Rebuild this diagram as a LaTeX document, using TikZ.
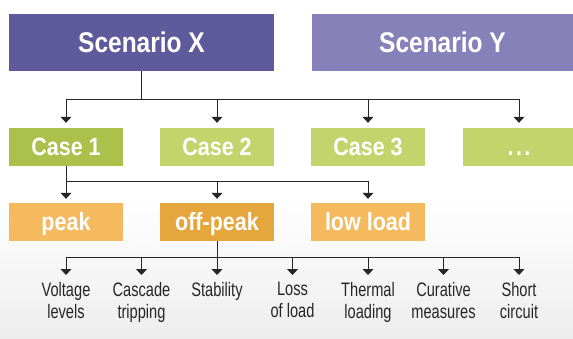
\documentclass[tikz,border=0pt]{standalone}
\usepackage{fontspec}
\setmainfont{Liberation Sans}
\newfontfamily\hdfont{Liberation Sans}[FakeStretch=0.86]
\newfontfamily\lbfont{Liberation Sans}[FakeStretch=0.75]
\usetikzlibrary{arrows.meta}
\definecolor{sxcol}{HTML}{5F5A9C}
\definecolor{sycol}{HTML}{8681B9}
\definecolor{conecol}{HTML}{ACC14B}
\definecolor{ccol}{HTML}{C3D46D}
\definecolor{pcol}{HTML}{F4BA5D}
\definecolor{opcol}{HTML}{E5A63D}
\begin{document}
\begin{tikzpicture}[x=1pt,y=-1pt,
  box/.style={rectangle, inner sep=0pt, text=white, minimum width=114pt, minimum height=38pt,
    font=\hdfont\bfseries\fontsize{25}{30}\selectfont, text height=18pt, text depth=0pt},
  scen/.style={box, minimum height=57pt, font=\hdfont\bfseries\fontsize{28.5}{32}\selectfont, text height=20.5pt},
  lbl/.style={inner sep=0pt, anchor=north, align=center, text=black!85,
    font=\lbfont\fontsize{19.5}{22}\selectfont},
  ln/.style={draw=black!85, line width=0.9pt},
  arr/.style={ln, -{Triangle[width=11pt,length=6pt]}}]
\useasboundingbox (0,0) rectangle (573,339);
\fill[white] (0,0) rectangle (573,339);
\shade[top color=white, bottom color=black!7] (0,200) rectangle (573,339);

% scenarios
\node[scen, fill=sxcol, minimum width=265pt] (sx) at (141.5,42.5) {Scenario X};
\node[scen, fill=sycol, minimum width=261pt] (sy) at (442.5,42.5) {Scenario Y};

% cases
\node[box, fill=conecol] (c1) at (66,147) {Case 1};
\node[box, fill=ccol] (c2) at (217,147) {Case 2};
\node[box, fill=ccol] (c3) at (368,147) {Case 3};
\node[box, fill=ccol, minimum width=112pt] (cd) at (519,147) {.\hspace{2.5pt}.\hspace{2.5pt}.};

% load levels
\node[box, fill=pcol] (p1) at (66,222) {peak};
\node[box, fill=opcol] (p2) at (217,222) {off-peak};
\node[box, fill=pcol] (p3) at (368,222) {low load};

% labels
\node[lbl] (l1) at (66,282) {Voltage\\levels};
\node[lbl] (l2) at (141.5,282) {Cascade\\tripping};
\node[lbl] (l3) at (217,282) {Stability};
\node[lbl] (l4) at (292.5,282) {Loss\\of load};
\node[lbl] (l5) at (368,282) {Thermal\\loading};
\node[lbl] (l6) at (443.5,282) {Curative\\measures};
\node[lbl] (l7) at (519,282) {Short\\circuit};

% connectors level 1
\coordinate (j1) at (141.5,99);
\draw[ln] (sx.south) -- (sx.south |- j1);
\draw[ln] (c1.north |- j1) -- (cd.north |- j1);
\foreach \n in {c1,c2,c3,cd} \draw[arr, shorten >=5pt] (\n.north |- j1) -- (\n.north);

% connectors level 2
\coordinate (j2) at (66,181);
\draw[ln] (c1.south) -- (j2) -- (p3.north |- j2);
\foreach \n in {p1,p2,p3} \draw[arr, shorten >=4pt] (\n.north |- j2) -- (\n.north);

% connectors level 3
\coordinate (j3) at (217,257);
\draw[ln] (p2.south) -- (j3);
\draw[ln] (l1.north |- j3) -- (l7.north |- j3);
\foreach \n in {l1,l2,l3,l4,l5,l6,l7} \draw[arr, shorten >=7pt] (\n.north |- j3) -- (\n.north);
\end{tikzpicture}
\end{document}
